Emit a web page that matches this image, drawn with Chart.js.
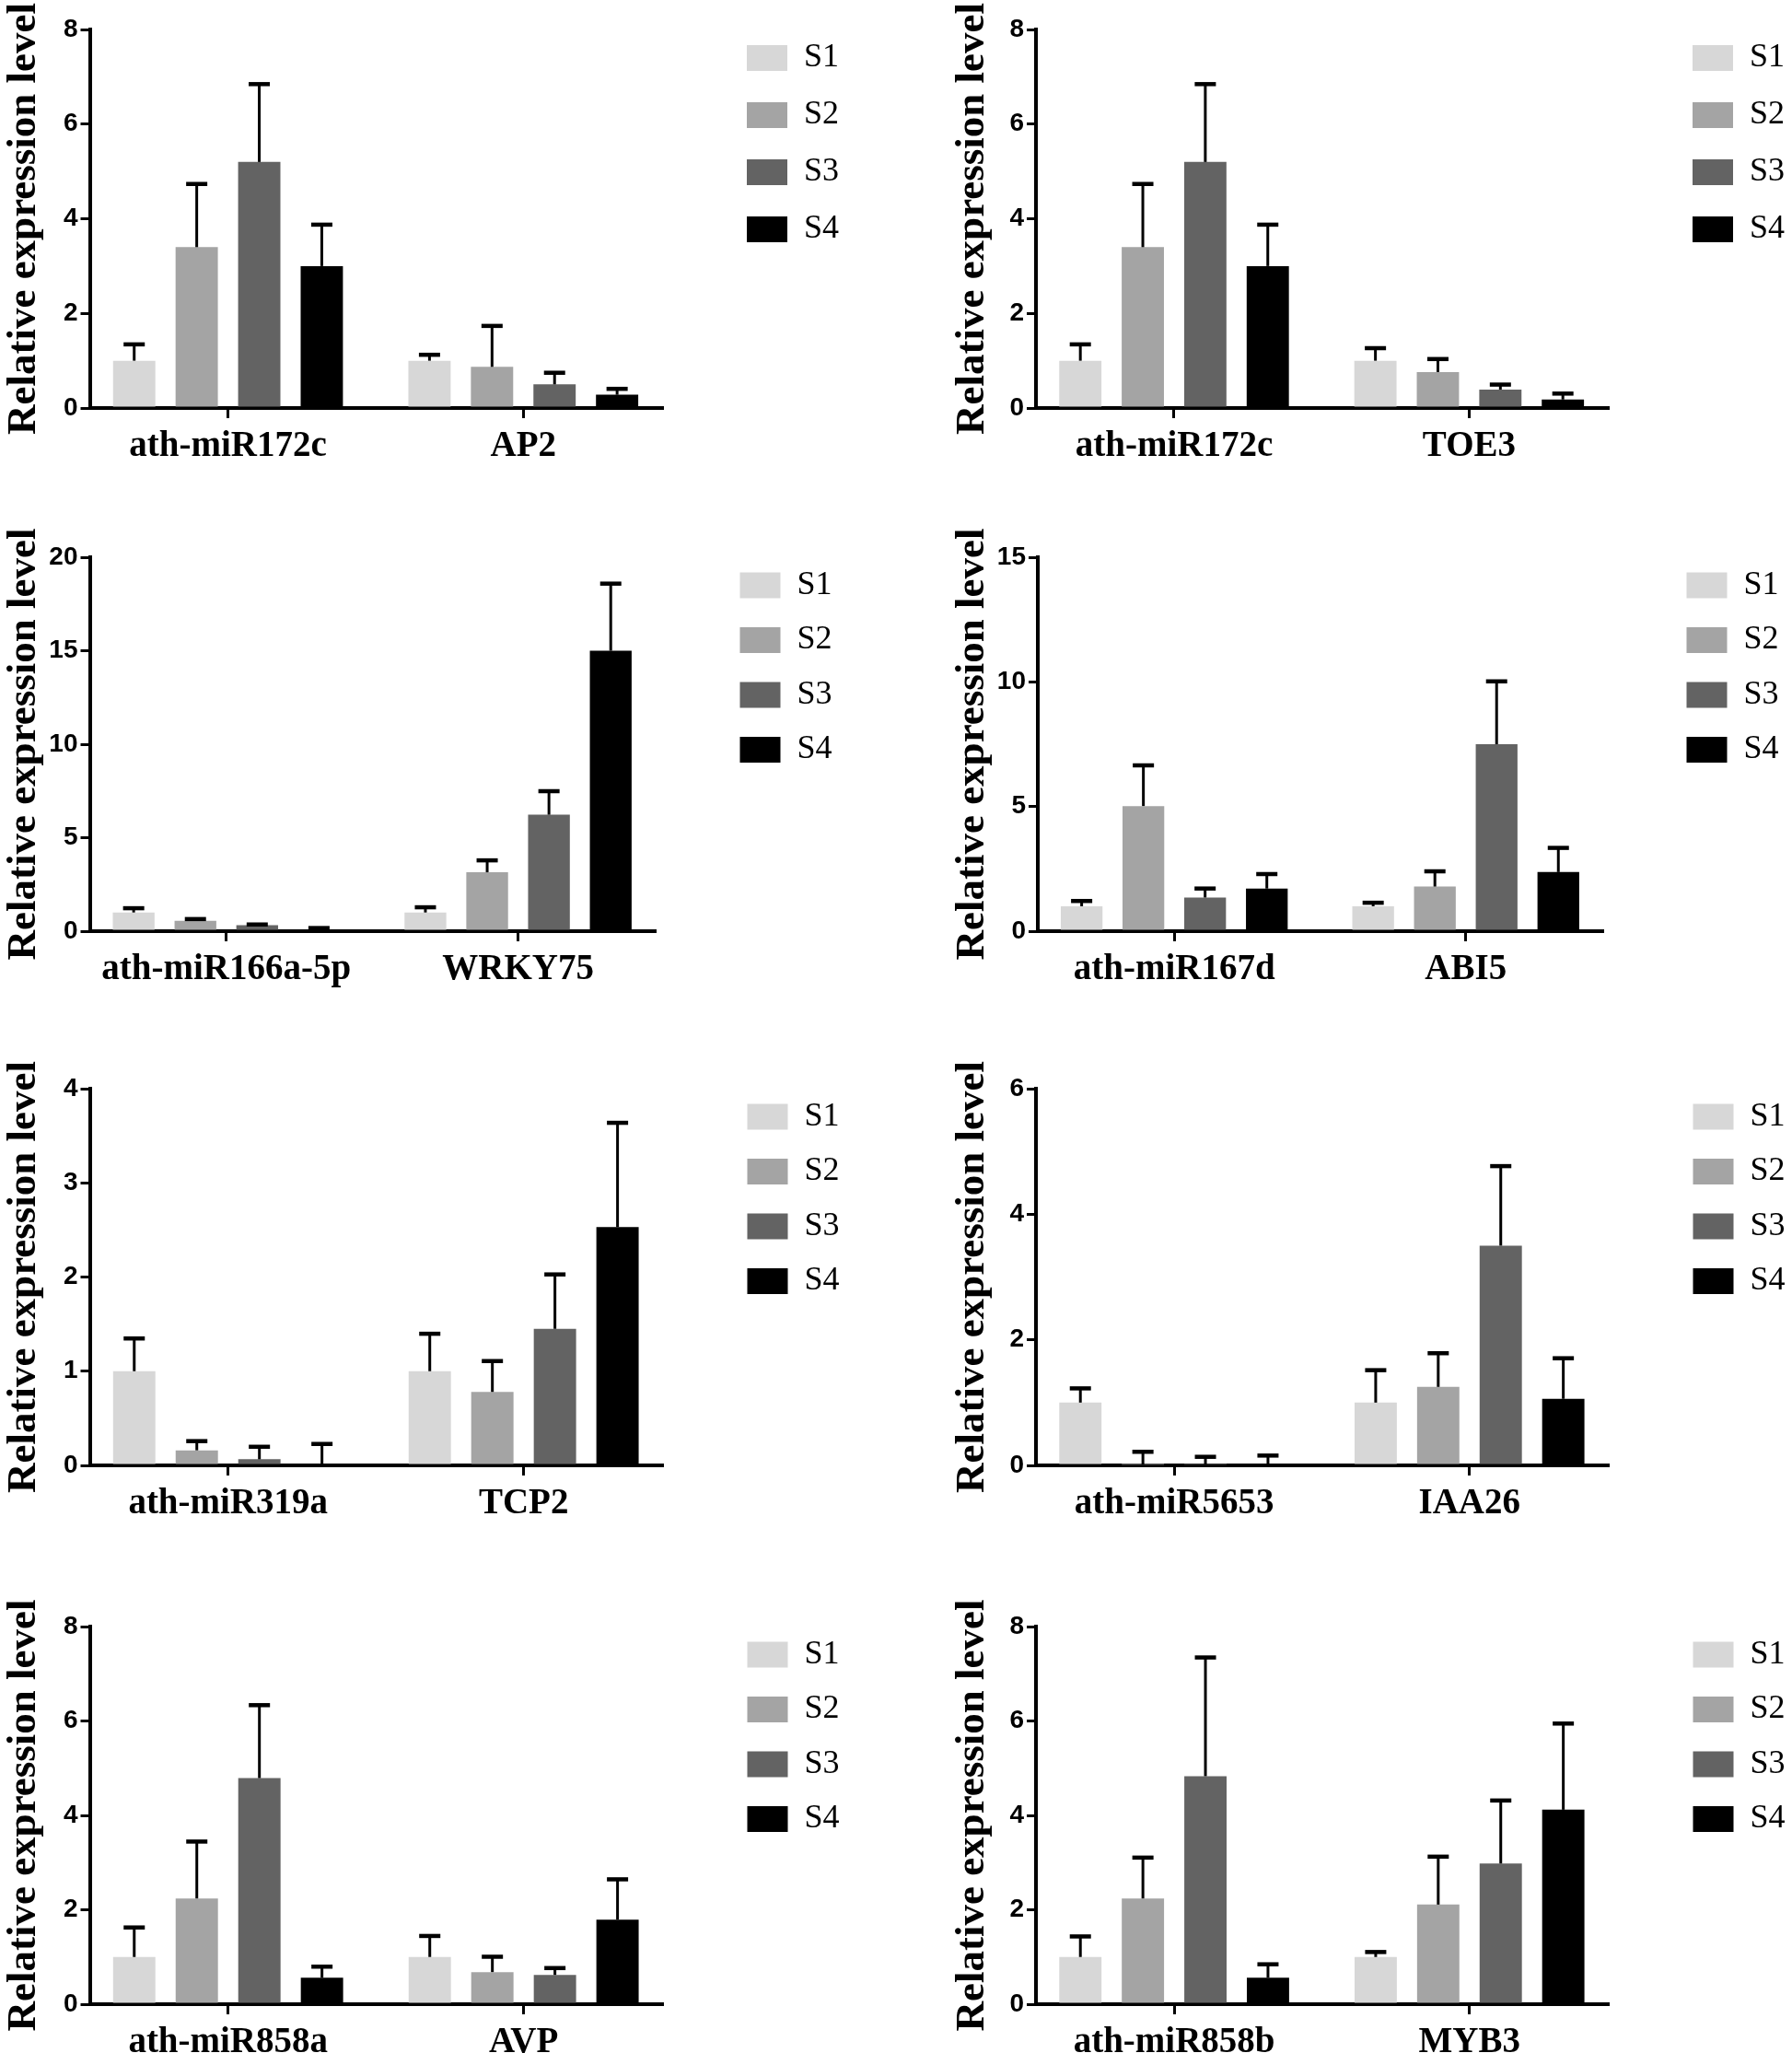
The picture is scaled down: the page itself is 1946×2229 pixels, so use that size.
<!DOCTYPE html>
<html>
<head>
<meta charset="utf-8">
<script src="https://cdn.jsdelivr.net/npm/chart.js@4.4.1/dist/chart.umd.min.js"></script>
<style>
html, body { margin: 0; padding: 0; background: #fff; }
#fig { position: relative; width: 1946px; height: 2229px; overflow: hidden; background: #fff; }
#fig canvas { position: absolute; }
</style>
</head>
<body>
<div id="fig"></div>
<script>
// ---------------- DATA ----------------
const seriesLabels = ['S1', 'S2', 'S3', 'S4'];

const p1Categories = ['ath-miR172c', 'AP2'];
const p1Means  = [[1.0, 1.0], [3.4, 0.87], [5.2, 0.5], [3.0, 0.28]];
const p1Errors = [[0.35, 0.13], [1.34, 0.87], [1.65, 0.25], [0.88, 0.13]];
const p1YTicks = [0, 2, 4, 6, 8];

const p2Categories = ['ath-miR172c', 'TOE3'];
const p2Means  = [[1.0, 1.0], [3.4, 0.76], [5.2, 0.39], [3.0, 0.18]];
const p2Errors = [[0.35, 0.27], [1.34, 0.28], [1.65, 0.11], [0.88, 0.13]];
const p2YTicks = [0, 2, 4, 6, 8];

const p3Categories = ['ath-miR166a-5p', 'WRKY75'];
const p3Means  = [[1.0, 1.0], [0.55, 3.15], [0.32, 6.23], [0.1, 15.0]];
const p3Errors = [[0.24, 0.29], [0.11, 0.65], [0.05, 1.27], [0.08, 3.6]];
const p3YTicks = [0, 5, 10, 15, 20];

const p4Categories = ['ath-miR167d', 'ABI5'];
const p4Means  = [[1.0, 1.0], [5.02, 1.79], [1.35, 7.5], [1.71, 2.37]];
const p4Errors = [[0.22, 0.15], [1.64, 0.62], [0.37, 2.53], [0.59, 0.98]];
const p4YTicks = [0, 5, 10, 15];

const p5Categories = ['ath-miR319a', 'TCP2'];
const p5Means  = [[1.0, 1.0], [0.16, 0.78], [0.065, 1.45], [0.0, 2.53]];
const p5Errors = [[0.35, 0.4], [0.1, 0.33], [0.135, 0.58], [0.23, 1.11]];
const p5YTicks = [0, 1, 2, 3, 4];

const p6Categories = ['ath-miR5653', 'IAA26'];
const p6Means  = [[1.0, 1.0], [0.01, 1.25], [0.01, 3.5], [0.01, 1.06]];
const p6Errors = [[0.23, 0.52], [0.21, 0.54], [0.13, 1.27], [0.15, 0.65]];
const p6YTicks = [0, 2, 4, 6];

const p7Categories = ['ath-miR858a', 'AVP'];
const p7Means  = [[1.0, 1.0], [2.24, 0.68], [4.79, 0.62], [0.56, 1.79]];
const p7Errors = [[0.63, 0.45], [1.21, 0.33], [1.55, 0.15], [0.24, 0.86]];
const p7YTicks = [0, 2, 4, 6, 8];

const p8Categories = ['ath-miR858b', 'MYB3'];
const p8Means  = [[1.0, 1.0], [2.24, 2.11], [4.83, 2.98], [0.56, 4.12]];
const p8Errors = [[0.44, 0.11], [0.87, 1.02], [2.52, 1.34], [0.29, 1.83]];
const p8YTicks = [0, 2, 4, 6, 8];

const axisTitle = 'Relative expression level';

// ---------------- STYLE / LAYOUT ----------------
const seriesColors = ['#d7d7d7', '#a4a4a4', '#636363', '#000000'];
const TOP_GAP = 32;      // space above plot area inside each canvas
const X_AXIS_H = 80;     // height reserved for the category axis
const LEGEND_W = 128;
const X_MIN = -0.468, X_MAX = 1.47;

const panelLayout = [
  {left: 0,    top: 0,    plotLeft: 97.5, plotRight: 719,  plotBottom: 443.3,  legendLeft: 811,  legendGap: 26,   legendDrop: 19},
  {left: 1030, top: 0,    plotLeft: 1125, plotRight: 1746, plotBottom: 443.3,  legendLeft: 1838, legendGap: 26,   legendDrop: 19},
  {left: 0,    top: 573,  plotLeft: 97.5, plotRight: 711,  plotBottom: 1010.5, legendLeft: 803,  legendGap: 23.5, legendDrop: 21},
  {left: 1030, top: 573,  plotLeft: 1127, plotRight: 1740, plotBottom: 1010.5, legendLeft: 1831, legendGap: 23.5, legendDrop: 21},
  {left: 0,    top: 1150, plotLeft: 97.5, plotRight: 719,  plotBottom: 1591,   legendLeft: 811,  legendGap: 23.5, legendDrop: 21},
  {left: 1030, top: 1150, plotLeft: 1125, plotRight: 1746, plotBottom: 1591,   legendLeft: 1838, legendGap: 23.5, legendDrop: 21},
  {left: 0,    top: 1734, plotLeft: 97.5, plotRight: 719,  plotBottom: 2176,   legendLeft: 811,  legendGap: 23.5, legendDrop: 21},
  {left: 1030, top: 1734, plotLeft: 1125, plotRight: 1746, plotBottom: 2176,   legendLeft: 1838, legendGap: 23.5, legendDrop: 21}
];

const panels = [
  [p1Categories, p1Means, p1Errors, p1YTicks],
  [p2Categories, p2Means, p2Errors, p2YTicks],
  [p3Categories, p3Means, p3Errors, p3YTicks],
  [p4Categories, p4Means, p4Errors, p4YTicks],
  [p5Categories, p5Means, p5Errors, p5YTicks],
  [p6Categories, p6Means, p6Errors, p6YTicks],
  [p7Categories, p7Means, p7Errors, p7YTicks],
  [p8Categories, p8Means, p8Errors, p8YTicks]
];

// error bars (upper only, Prism style), drawn through the chart's own scales
const errorBarPlugin = {
  id: 'errorBars',
  afterDatasetsDraw(chart) {
    const ctx = chart.ctx;
    const yScale = chart.scales.y;
    chart.data.datasets.forEach((ds, i) => {
      const meta = chart.getDatasetMeta(i);
      meta.data.forEach((bar, j) => {
        const m = ds.data[j];
        const e = ds.errors[j];
        const yBase = yScale.getPixelForValue(m);
        const yTop = yScale.getPixelForValue(m + e);
        ctx.save();
        ctx.strokeStyle = '#000';
        ctx.lineWidth = 3;
        ctx.beginPath();
        ctx.moveTo(bar.x, yBase);
        ctx.lineTo(bar.x, yTop);
        ctx.stroke();
        ctx.fillStyle = '#000';
        ctx.fillRect(bar.x - 11.5, yTop - 2, 23, 4.5);
        ctx.restore();
      });
    });
  }
};

Chart.defaults.font.family = 'Liberation Sans';
Chart.defaults.color = '#000';

const fig = document.getElementById('fig');

panels.forEach(([cats, means, errors, yTicks], idx) => {
  const L = panelLayout[idx];
  const H = Math.round(L.plotBottom - L.top + X_AXIS_H);
  const yW = L.plotLeft - L.left;
  const yR = L.legendLeft - L.plotRight - L.legendGap;
  const W = Math.round(L.legendLeft - L.legendGap + LEGEND_W - L.left);

  const canvas = document.createElement('canvas');
  canvas.width = W;
  canvas.height = H;
  canvas.style.left = L.left + 'px';
  canvas.style.top = L.top + 'px';
  canvas.style.width = W + 'px';
  canvas.style.height = H + 'px';
  fig.appendChild(canvas);

  const datasets = seriesLabels.map((lab, s) => ({
    label: lab,
    data: means[s],
    errors: errors[s],
    backgroundColor: seriesColors[s],
    borderWidth: 0,
    categoryPercentage: 0.847,
    barPercentage: 0.676,
    xAxisID: 'x',
    yAxisID: 'y'
  }));

  new Chart(canvas, {
    type: 'bar',
    data: { labels: cats.map((_, i) => i), datasets },
    options: {
      responsive: false,
      animation: false,
      devicePixelRatio: 1,
      events: [],
      layout: { padding: 0 },
      plugins: {
        tooltip: { enabled: false },
        legend: {
          display: true,
          position: 'right',
          align: 'start',
          maxWidth: LEGEND_W,
          title: { display: true, text: '', font: { size: 10, lineHeight: 1 }, padding: { top: L.legendDrop - 10, bottom: 0 } },
          labels: {
            boxWidth: 44,
            boxHeight: 28,
            padding: L.legendGap,
            color: '#000',
            font: { family: 'Liberation Serif', size: 36, weight: 'normal' }
          }
        }
      },
      scales: {
        x: {
          type: 'linear',
          position: 'bottom',
          min: X_MIN,
          max: X_MAX,
          offset: false,
          grid: { display: true, drawOnChartArea: false, drawTicks: true, tickLength: 11, color: '#000', lineWidth: 3, offset: false },
          border: { display: true, color: '#000', width: 4 },
          ticks: {
            stepSize: 1,
            includeBounds: false,
            autoSkip: false,
            maxRotation: 0,
            minRotation: 0,
            padding: 8,
            color: '#000',
            font: { family: 'Liberation Serif', weight: 'bold', size: 39 },
            callback: (v) => (cats[v] !== undefined ? cats[v] : '')
          },
          afterFit: (s) => { s.height = X_AXIS_H; }
        },
        y: {
          type: 'linear',
          position: 'left',
          min: yTicks[0],
          max: yTicks[yTicks.length - 1],
          ticks: {
            stepSize: yTicks[1] - yTicks[0],
            padding: 3,
            color: '#000',
            font: { family: 'Liberation Sans', weight: 'bold', size: 28 }
          },
          grid: { display: true, drawOnChartArea: false, drawTicks: true, tickLength: 10, color: '#000', lineWidth: 3 },
          border: { display: true, color: '#000', width: 4 },
          title: {
            display: true,
            text: axisTitle,
            color: '#000',
            font: { family: 'Liberation Serif', weight: 'bold', size: 45, lineHeight: 1 },
            padding: { top: 4, bottom: 0 }
          },
          afterFit: (s) => { s.width = yW; }
        },
        xTop: {
          type: 'linear',
          position: 'top',
          display: true,
          ticks: { display: false },
          grid: { display: false },
          border: { display: false },
          afterFit: (s) => { s.height = TOP_GAP; }
        },
        yRight: {
          type: 'linear',
          position: 'right',
          display: true,
          ticks: { display: false },
          grid: { display: false },
          border: { display: false },
          afterFit: (s) => { s.width = yR; }
        }
      }
    },
    plugins: [errorBarPlugin]
  });
});
</script>
</body>
</html>
